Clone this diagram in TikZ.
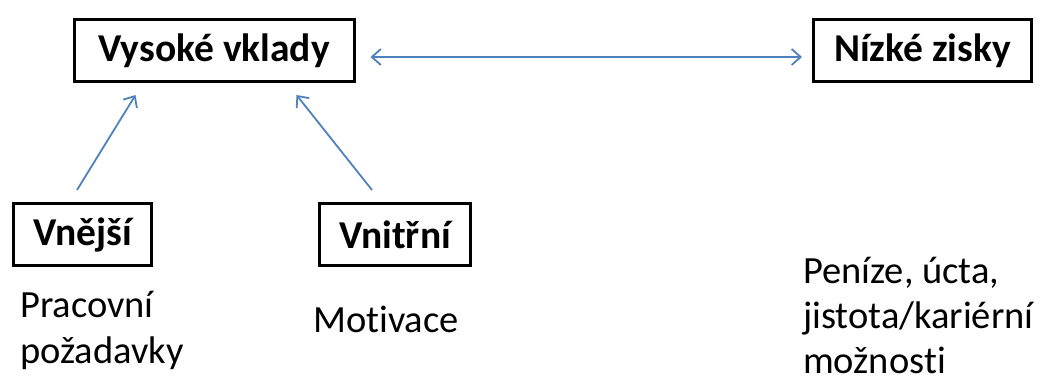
\documentclass[tikz,border=0pt]{standalone}
\usepackage{fontspec}
\setmainfont[Ligatures=NoCommon]{Carlito}
\usetikzlibrary{arrows.meta,calc}
\definecolor{arrblue}{RGB}{79,129,189}
\begin{document}
\begin{tikzpicture}[x=1pt,y=-1pt,
  box/.style={draw=black,line width=3pt,inner sep=0pt,font=\fontsize{39.5}{44}\selectfont\bfseries},
  lbl/.style={inner sep=0pt,anchor=base west,align=left},
  arr/.style={draw=arrblue,line width=1.8pt,-{Straight Barb[length=9pt,width=16pt]}},
  darr/.style={draw=arrblue,line width=1.8pt,{Straight Barb[length=9pt,width=16pt]}-{Straight Barb[length=9pt,width=16pt]}}]
\useasboundingbox[fill=white] (0,0) rectangle (1040,378);
\node[box,minimum width=280pt,minimum height=62pt] (vv) at (214,50.5) {Vysoké vklady};
\node[box,minimum width=218pt,minimum height=62pt] (nz) at (922.5,50.5) {Nízké zisky};
\node[box,minimum width=138pt,minimum height=62pt] (vne) at (82.5,234.5) {Vnější};
\node[box,minimum width=151pt,minimum height=62pt] (vni) at (395,234.5) {Vnitřní};
\node[lbl,font=\fontsize{38.5}{46}\selectfont] (prac) at (20,363) {Pracovní\\požadavky};
\node[lbl,font=\fontsize{38.5}{46}\selectfont] (mot) at (313,332) {Motivace};
\node[lbl,font=\fontsize{38.5}{45}\selectfont] (pen) at (803,373) {Peníze, úcta,\\jistota/kariérní\\možnosti};
\draw[arr] ($(vne.north west)+(65,-12)$) -- ($(vv.south west)+(63,12)$);
\draw[arr] ($(vni.north west)+(54,-12)$) -- ($(vv.south east)+(-59,12)$);
\draw[darr] ($(vv.east)+(15,6.5)$) -- ($(nz.west)+(-10,6.5)$);
\end{tikzpicture}
\end{document}
